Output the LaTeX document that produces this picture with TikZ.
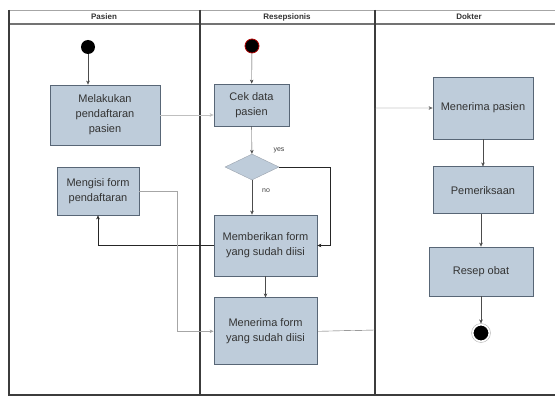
\documentclass[tikz,border=0pt]{standalone}
\usepackage{fontspec}
\setmainfont{Liberation Sans}
\usepackage{tikz}
\usetikzlibrary{positioning,shapes.geometric,arrows.meta}
\definecolor{boxfill}{RGB}{190,204,218}
\definecolor{boxline}{RGB}{88,102,118}
\definecolor{laneline}{RGB}{60,60,60}

\begin{document}
\begin{tikzpicture}
[x=1pt, y=-1pt,
actnode/.style={rectangle, draw=boxline, fill=boxfill, thick, align=center, inner sep=1pt, text=black!80, font=\fontsize{11}{15}\selectfont},
decnode/.style={diamond, draw=boxline!60, fill=boxfill, aspect=2.1, inner sep=0pt, minimum width=54pt, minimum height=26pt},
startnode/.style={circle, fill=black, minimum size=14pt, inner sep=0pt},
endnode/.style={circle, fill=black, draw=white, line width=2pt, minimum size=17pt, inner sep=0pt},
flow/.style={draw=black!70, -{Stealth[length=4pt,width=3.5pt]}},
lane/.style={draw=laneline, line width=1.2pt},
lanehead/.style={font=\bfseries\fontsize{8}{9}\selectfont, text=black!80},
lbl/.style={font=\fontsize{7}{8}\selectfont, text=black!75},
]
\useasboundingbox (0,0) rectangle (555,396);

% swimlanes
\draw[draw=black!35, line width=0.8pt] (9,10) -- (555,10);
\draw[draw=black!55, line width=1.6pt] (9,24) -- (555,24);
\draw[lane] (9,10) -- (9,395) -- (555,395);
\draw[lane] (200,10) -- (200,395);
\draw[lane] (375,10) -- (375,395);
\node[lanehead] (hpasien) at (104,17) {Pasien};
\node[lanehead] (hresep) at (287,17) {Resepsionis};
\node[lanehead] (hdokter) at (469,17) {Dokter};

% pasien
\node[startnode] (startp) at (88,47) {};
\node[actnode, minimum width=110pt, minimum height=60pt] (daftar) at (105,115) {Melakukan\\pendaftaran\\pasien};
\node[actnode, minimum width=82pt, minimum height=48pt] (isi) at (98,191) {Mengisi form\\pendaftaran};

% resepsionis
\node[startnode, draw=red!70!black, thick] (startr) at (252,46) {};
\node[actnode, minimum width=75pt, minimum height=42pt] (cek) at (251.5,105) {Cek data\\pasien};
\node[decnode] (dec) at (252,167) {};
\node[actnode, minimum width=103pt, minimum height=61pt] (beri) at (265.5,245.5) {Memberikan form\\yang sudah diisi};
\node[actnode, minimum width=103pt, minimum height=67pt] (terimaform) [below=21pt of beri] {Menerima form\\yang sudah diisi};
\node[lbl] (yes) at (279,150) {yes};
\node[lbl] (no) at (266,191) {no};
\coordinate (yesturn) at (330,167);
\coordinate (isiturn) at (177,191);
\coordinate (laneturn) at (375,330);

% dokter
\node[actnode, minimum width=100pt, minimum height=62pt] (terimapasien) at (483,108) {Menerima pasien};
\node[actnode, minimum width=100pt, minimum height=47pt] (periksa) [below=27pt of terimapasien] {Pemeriksaan};
\node[actnode, minimum width=104pt, minimum height=49pt] (resepobat) at (481,271.5) {Resep obat};
\node[endnode] (stop) at (481,333) {};
\draw[draw=black!30, thin] (stop) circle (9.5pt);

% alur
\draw[flow] (startp) -- (startp |- daftar.north);
\draw[flow, draw=black!25] (daftar.east) -- (cek.west |- daftar.east);
\draw[flow] (startr) -- (cek);
\draw[flow] (cek) -- (dec);
\draw[flow] (dec.south) -- (dec.south |- beri.north);
\draw[flow, draw=black!85] (dec.east) -- (yesturn) |- (beri.east);
\draw[flow] (beri) -- (terimaform);
\draw[flow, draw=black!85] (beri.west) -| (isi.south);
\draw[flow, draw=black!35] (isi.east) -- (isiturn) |- (terimaform.west);
\draw[flow, draw=black!60] (terimaform.east) -- (laneturn) |- (terimapasien.west);
\draw[flow] (terimapasien) -- (periksa);
\draw[flow] (resepobat.north |- periksa.south) -- (resepobat.north);
\draw[flow] (resepobat) -- (stop);
\end{tikzpicture}
\end{document}
